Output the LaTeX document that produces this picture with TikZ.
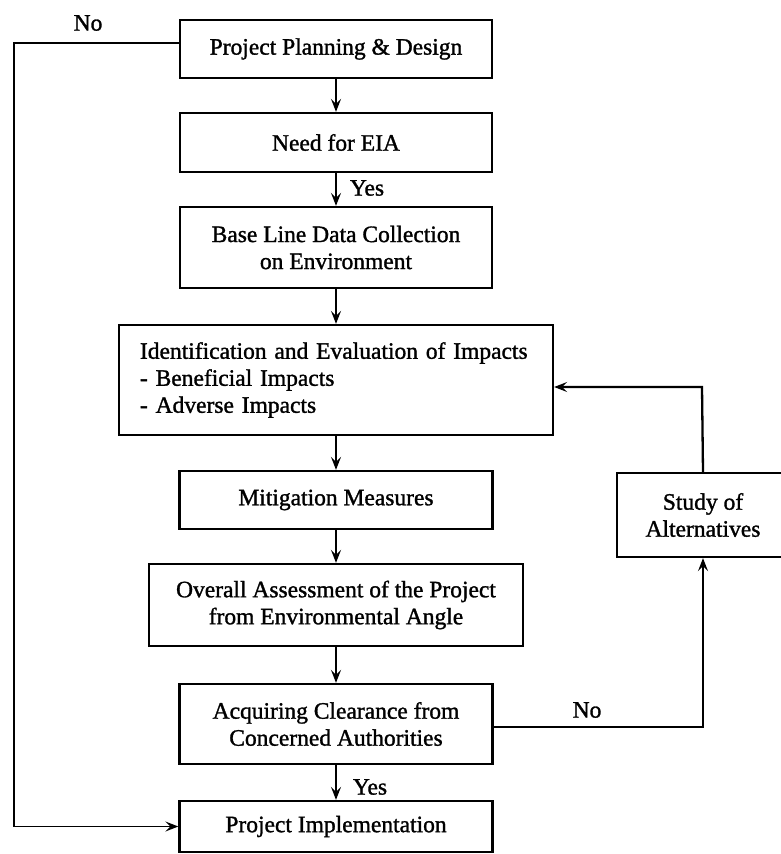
\documentclass[tikz,border=0pt]{standalone}
\usepackage{fontspec}
\setmainfont{Liberation Serif}[BoldFont={Liberation Serif},BoldFeatures={FakeBold=1.3}]
\usetikzlibrary{arrows.meta,calc}
\begin{document}
\begin{tikzpicture}[x=1pt,y=-1pt,
  txt/.style={font=\fontsize{23.5}{27}\selectfont\bfseries},
  box/.style={draw,line width=2.3pt,inner sep=0pt,align=center,txt},
  flow/.style={line width=2.3pt,-{Stealth[length=13pt,width=10pt,inset=5pt]}},
  loop/.style={line width=1.8pt,-{Stealth[length=13pt,width=10pt,inset=5pt]}},
  lbl/.style={txt,inner sep=0pt}]
\clip (0,0) rectangle (781,854);

% main column of process steps
\node[box,minimum width=312pt,minimum height=58pt] (ppd) at (336,49) {Project Planning \& Design};
\node[box,minimum width=312pt,minimum height=59pt] (eia) at (336,142.5) {Need for EIA};
\node[box,minimum width=312pt,minimum height=81pt] (base) at (336,247.5) {Base Line Data Collection\\on Environment};
\node[box,minimum width=434pt,minimum height=110pt,text width=392pt,align=left] (ident) at (336,380)
  {Identification and Evaluation of Impacts\\- Beneficial Impacts\\- Adverse Impacts};
\node[box,minimum width=313pt,minimum height=58pt] (mitig) at (336,500) {Mitigation Measures};
\node[box,minimum width=374pt,minimum height=82pt] (overall) at (336,605) {Overall Assessment of the Project\\from Environmental Angle};
\node[box,minimum width=313pt,minimum height=80pt] (acq) at (336,724) {Acquiring Clearance from\\Concerned Authorities};
\node[box,minimum width=313pt,minimum height=51pt] (impl) at (336,826.5) {Project Implementation};

% side step
\node[box,minimum width=172pt,minimum height=84pt] (study) at (703,515) {Study of\\Alternatives};

% labels
\node[lbl] (no1) at (88,23) {No};
\node[lbl] (yes1) at (367,188) {Yes};
\node[lbl] (no2) at (587,710) {No};
\node[lbl] (yes2) at (370,787) {Yes};

% downward flow
\draw[flow] (ppd) -- (eia);
\draw[flow] (eia) -- (base);
\draw[flow] (base) -- (ident);
\draw[flow] (ident) -- (mitig);
\draw[flow] (mitig) -- (overall);
\draw[flow] (overall) -- (acq);
\draw[flow] (acq) -- (impl);

% bypass when no EIA is needed
\coordinate (bl) at (14,43);
\draw[loop] ([yshift=6pt]ppd.west) -- (bl) |- (impl.west);

% loop back through alternatives
\coordinate (fb) at (702,387);
\draw[flow] ([yshift=-3pt]acq.east) -| (study.south);
\draw[flow] (study.north) -- (fb) -- (fb -| ident.east);
\end{tikzpicture}
\end{document}
